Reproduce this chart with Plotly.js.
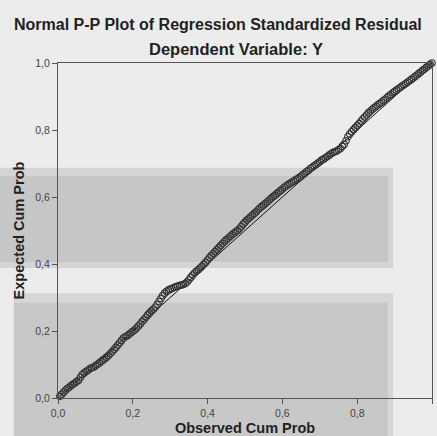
<!DOCTYPE html>
<html><head><meta charset="utf-8">
<script src="https://cdn.plot.ly/plotly-3.0.1.min.js"></script>
<style>html,body{margin:0;padding:0;background:#ececec;}#chart{width:437px;height:436px;}</style>
</head><body><div id="chart"></div>
<script>
// Observed cumulative probability (x) and expected cumulative probability (y)
const observedCumProb = [
0.005,0.010,0.015,0.020,0.025,0.030,0.035,0.040,0.045,0.050,0.055,0.060,0.065,0.070,0.075,0.080,0.085,0.090,0.095,0.100,
0.105,0.110,0.115,0.120,0.125,0.130,0.135,0.140,0.145,0.150,0.155,0.160,0.165,0.170,0.175,0.180,0.185,0.190,0.195,0.200,
0.205,0.210,0.215,0.220,0.225,0.230,0.235,0.240,0.245,0.250,0.255,0.260,0.265,0.270,0.275,0.280,0.285,0.290,0.295,0.300,
0.305,0.310,0.315,0.320,0.325,0.330,0.335,0.340,0.345,0.350,0.355,0.360,0.365,0.370,0.375,0.380,0.385,0.390,0.395,0.400,
0.405,0.410,0.415,0.420,0.425,0.430,0.435,0.440,0.445,0.450,0.455,0.460,0.465,0.470,0.475,0.480,0.485,0.490,0.495,0.500,
0.505,0.510,0.515,0.520,0.525,0.530,0.535,0.540,0.545,0.550,0.555,0.560,0.565,0.570,0.575,0.580,0.585,0.590,0.595,0.600,
0.605,0.610,0.615,0.620,0.625,0.630,0.635,0.640,0.645,0.650,0.655,0.660,0.665,0.670,0.675,0.680,0.685,0.690,0.695,0.700,
0.705,0.710,0.715,0.720,0.725,0.730,0.735,0.740,0.745,0.750,0.755,0.760,0.765,0.770,0.775,0.780,0.785,0.790,0.795,0.800,
0.805,0.810,0.815,0.820,0.825,0.830,0.835,0.840,0.845,0.850,0.855,0.860,0.865,0.870,0.875,0.880,0.885,0.890,0.895,0.900,
0.905,0.910,0.915,0.920,0.925,0.930,0.935,0.940,0.945,0.950,0.955,0.960,0.965,0.970,0.975,0.980,0.985,0.990,0.995,1.000];
const expectedCumProb = [
0.005,0.011,0.017,0.023,0.028,0.032,0.037,0.041,0.045,0.049,0.053,0.062,0.070,0.075,0.079,0.083,0.087,0.090,0.092,0.096,
0.100,0.104,0.109,0.113,0.117,0.122,0.127,0.133,0.139,0.145,0.151,0.158,0.165,0.172,0.179,0.183,0.186,0.190,0.195,0.199,
0.203,0.209,0.215,0.221,0.228,0.234,0.241,0.248,0.254,0.260,0.265,0.271,0.279,0.288,0.297,0.306,0.313,0.318,0.322,0.325,
0.327,0.330,0.332,0.334,0.336,0.337,0.339,0.342,0.346,0.353,0.360,0.367,0.373,0.378,0.383,0.388,0.393,0.399,0.405,0.412,
0.419,0.425,0.431,0.437,0.443,0.449,0.455,0.461,0.467,0.472,0.477,0.482,0.487,0.492,0.496,0.500,0.505,0.512,0.519,0.525,
0.531,0.536,0.541,0.546,0.551,0.556,0.562,0.567,0.572,0.576,0.581,0.586,0.591,0.596,0.601,0.605,0.610,0.615,0.619,0.624,
0.629,0.633,0.637,0.640,0.644,0.647,0.651,0.654,0.658,0.662,0.667,0.671,0.676,0.680,0.685,0.689,0.693,0.697,0.701,0.705,
0.710,0.713,0.717,0.721,0.725,0.729,0.733,0.735,0.737,0.741,0.745,0.751,0.757,0.768,0.780,0.788,0.795,0.801,0.807,0.813,
0.819,0.826,0.833,0.839,0.845,0.851,0.856,0.861,0.866,0.870,0.875,0.879,0.883,0.888,0.892,0.897,0.902,0.906,0.911,0.915,
0.919,0.923,0.927,0.931,0.935,0.939,0.943,0.947,0.951,0.955,0.960,0.964,0.969,0.973,0.978,0.982,0.987,0.991,0.996,1.000];
const refLineX = [0, 1];
const refLineY = [0, 1];
const tickVals = [0, 0.2, 0.4, 0.6, 0.8, 1.0];
const chartTitle = "Normal P-P Plot of Regression Standardized Residual";
const chartSubtitle = "Dependent Variable: Y";
const xTitle = "Observed Cum Prob";
const yTitle = "Expected Cum Prob";

const FONT = "Liberation Sans, Arial, sans-serif";

const traces = [
  {x: refLineX, y: refLineY, type: 'scatter', mode: 'lines',
   line: {color: '#111', width: 1}, hoverinfo: 'skip', showlegend: false},
  {x: observedCumProb, y: expectedCumProb, type: 'scatter', mode: 'markers',
   marker: {symbol: 'circle-open', size: 6.5, color: '#333', line: {width: 1.1, color: '#333'}},
   cliponaxis: false, showlegend: false}
];

const axisCommon = {
  range: [0, 1], tickvals: tickVals, tickformat: '.1f',
  showgrid: false, zeroline: false, showline: true, mirror: true,
  linecolor: '#555', linewidth: 1, ticks: 'outside', ticklen: 5, tickcolor: '#555',
  tickfont: {family: FONT, size: 10.5, color: '#444'}, automargin: false, fixedrange: true
};

const layout = {
  width: 437, height: 436,
  margin: {l: 58, r: 5, t: 63, b: 38},
  paper_bgcolor: '#ececec', plot_bgcolor: 'rgba(0,0,0,0)',
  separators: ',.',
  showlegend: false,
  xaxis: Object.assign({}, axisCommon, {
    title: {text: xTitle, font: {family: FONT, size: 14.5, color: '#222', weight: 'bold'}, standoff: 6}
  }),
  yaxis: Object.assign({}, axisCommon, {
    title: {text: yTitle, font: {family: FONT, size: 14.5, color: '#222', weight: 'bold'}, standoff: 7}
  }),
  shapes: [
    {type: 'rect', xref: 'paper', yref: 'paper', x0: -0.16, x1: 0.896, y0: 0.388, y1: 0.687, line: {width: 0}, fillcolor: '#d4d4d4', layer: 'below'},
    {type: 'rect', xref: 'paper', yref: 'paper', x0: -0.16, x1: 0.882, y0: 0.406, y1: 0.663, line: {width: 0}, fillcolor: '#c6c6c6', layer: 'below'},
    {type: 'rect', xref: 'paper', yref: 'paper', x0: -0.118, x1: 0.896, y0: -0.12, y1: 0.313, line: {width: 0}, fillcolor: '#d6d6d6', layer: 'below'},
    {type: 'rect', xref: 'paper', yref: 'paper', x0: -0.118, x1: 0.882, y0: -0.12, y1: 0.284, line: {width: 0}, fillcolor: '#c8c8c8', layer: 'below'}
  ],
  annotations: [
    {text: chartTitle, xref: 'paper', yref: 'paper', x: 0.428, y: 1.115, xanchor: 'center', yanchor: 'middle',
     showarrow: false, font: {family: FONT, size: 16, color: '#222', weight: 'bold'}},
    {text: chartSubtitle, xref: 'paper', yref: 'paper', x: 0.477, y: 1.043, xanchor: 'center', yanchor: 'middle',
     showarrow: false, font: {family: FONT, size: 16.5, color: '#222', weight: 'bold'}}
  ]
};

Plotly.newPlot('chart', traces, layout, {displayModeBar: false, staticPlot: true});
</script>
</body></html>
